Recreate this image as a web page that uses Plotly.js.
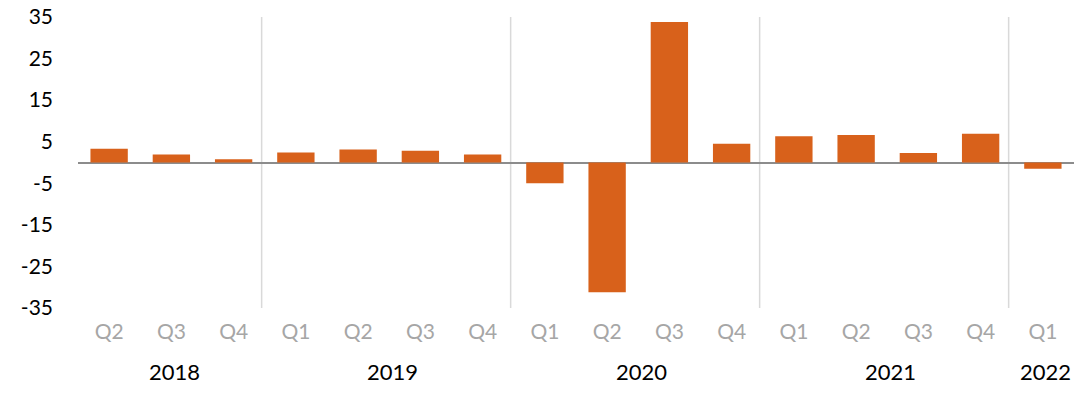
<!DOCTYPE html>
<html>
<head>
<meta charset="utf-8">
<script src="https://cdn.plot.ly/plotly-3.0.1.min.js"></script>
<style>html,body{margin:0;padding:0;background:#fff;}#chart{width:1080px;height:393px;}</style>
</head>
<body>
<div id="chart"></div>
<script>
const quarters = ["Q2","Q3","Q4","Q1","Q2","Q3","Q4","Q1","Q2","Q3","Q4","Q1","Q2","Q3","Q4","Q1"];
const years    = ["2018","2018","2018","2019","2019","2019","2019","2020","2020","2020","2020","2021","2021","2021","2021","2022"];
const values   = [3.3, 1.9, 0.8, 2.4, 3.1, 2.8, 1.9, -5.0, -31.2, 33.8, 4.5, 6.3, 6.6, 2.3, 6.9, -1.5];
const yTicks   = [-35, -25, -15, -5, 5, 15, 25, 35];
const yTickText = ["-35", "-25", "-15", "-5", "5", "15", "25", "35"];

const idx = quarters.map((_, i) => i);
const FONT = "Lato, 'Open Sans', sans-serif";

// year groups
const groups = [];
years.forEach((y, i) => {
  if (!groups.length || groups[groups.length - 1].year !== y) groups.push({year: y, start: i, end: i});
  else groups[groups.length - 1].end = i;
});

const annotations = groups.map(g => ({
  x: (g.start + g.end) / 2, xref: 'x', xshift: 3,
  y: -0.218, yref: 'paper', yanchor: 'middle', xanchor: 'center',
  text: g.year, showarrow: false,
  font: {family: FONT, size: 22, color: '#000000'}
}));

const shapes = groups.slice(1).map(g => ({
  type: 'line', xref: 'x', yref: 'paper',
  x0: g.start - 0.55, x1: g.start - 0.55, y0: 0, y1: 1,
  line: {color: '#d9d9d9', width: 1.5}, layer: 'below'
}));

const trace = {
  type: 'bar', x: idx, y: values,
  marker: {color: '#D8611B'},
  hoverinfo: 'none'
};

const layout = {
  width: 1080, height: 393,
  margin: {l: 78, r: 6, t: 17, b: 85},
  paper_bgcolor: '#ffffff', plot_bgcolor: '#ffffff',
  showlegend: false,
  bargap: 0.4,
  xaxis: {
    tickmode: 'array', tickvals: idx, ticktext: quarters,
    range: [-0.5, quarters.length - 0.5],
    showgrid: false, zeroline: false, showline: false, ticks: '',
    tickfont: {family: FONT, size: 21, color: '#a6a6a6'},
    ticklabelstandoff: 9
  },
  yaxis: {
    range: [-35, 35], tickmode: 'array', tickvals: yTicks, ticktext: yTickText,
    showgrid: false, zeroline: true, zerolinecolor: '#8c8c8c', zerolinewidth: 2,
    showline: false, ticks: '',
    tickfont: {family: FONT, size: 21, color: '#000000'},
    ticklabelstandoff: 24
  },
  annotations: annotations,
  shapes: shapes
};

Plotly.newPlot('chart', [trace], layout, {staticPlot: true, displayModeBar: false});
</script>
</body>
</html>
